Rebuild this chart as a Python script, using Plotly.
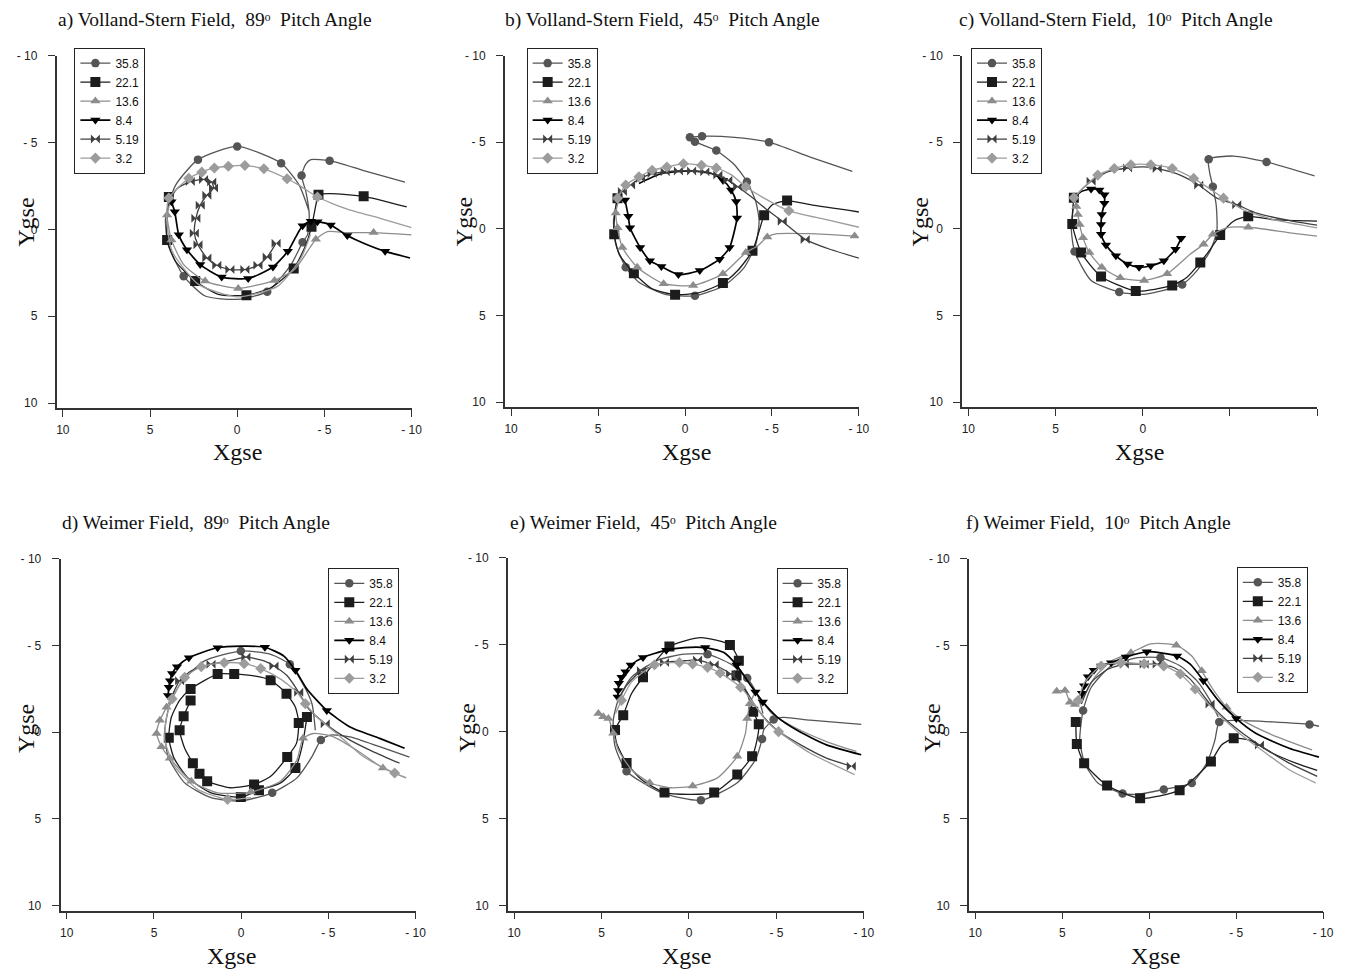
import plotly.graph_objects as go

ENERGIES = ["35.8", "22.1", "13.6", "8.4", "5.19", "3.2"]
TICK_VALS = [-10, -5, 0, 5, 10]
Y_TICK_TEXT = ["- 10", "- 5", "0", "5", "10"]
X_TICK_TEXT = ["- 10", "- 5", "0", "5", "10"]
C_TICK_VALS = [0, 5, 10]          # panel c: only these x ticks are labelled
C_X_TICK_TEXT = ["0", "5", "10"]
C_UNLABELLED = [-10, -5]
TITLES = [
    "a) Volland-Stern Field,\u00a0 89\u1d52\u00a0 Pitch Angle",
    "b) Volland-Stern Field,\u00a0 45\u1d52\u00a0 Pitch Angle",
    "c) Volland-Stern Field,\u00a0 10\u1d52\u00a0 Pitch Angle",
    "d) Weimer Field,\u00a0 89\u1d52\u00a0 Pitch Angle",
    "e) Weimer Field,\u00a0 45\u1d52\u00a0 Pitch Angle",
    "f) Weimer Field,\u00a0 10\u1d52\u00a0 Pitch Angle",
]

# ---------------- panel a ----------------
A_X = {
    "35.8": [-9.62, -7.25, -5.30, -4.22, -3.94, -3.69, -3.94, -4.13, -4.03, -3.75, -3.09, -1.72, 0.00, 1.84, 3.07, 3.96, 4.11, 3.54, 2.25, 0.00, -2.52, -3.56, -4.13],
    "22.1": [-9.72, -7.25, -5.36, -4.66, -4.51, -4.26, -3.94, -3.24, -1.95, -0.53, 1.08, 2.41, 3.54, 4.02, 4.02, 3.92],
    "13.6": [-10.0, -7.82, -6.31, -5.17, -4.51, -4.03, -3.28, -2.14, -0.06, 1.84, 3.07, 3.77, 4.02, 3.83],
    "8.4": [-9.91, -8.48, -7.25, -6.31, -5.36, -4.60, -4.22, -3.75, -3.37, -2.90, -2.05, -0.63, 0.89, 2.12, 2.88, 3.35, 3.58, 3.77],
    "5.19": [4.02, 3.45, 2.69, 1.93, 1.46, 1.36, 1.74, 2.12, 2.37, 2.46, 2.25, 1.74, 1.17, 0.42, -0.44, -1.19, -1.72, -2.23],
    "3.2": [-10.0, -8.20, -6.31, -4.60, -3.56, -2.86, -1.53, -0.44, 0.51, 1.31, 2.03, 2.78, 3.35, 3.92, 4.05, 3.73, 2.22, 0.00, -2.33, -3.66, -4.20],
}
A_Y = {
    "35.8": [-2.72, -3.38, -3.95, -4.01, -3.76, -3.10, -2.15, -0.82, 0.32, 0.74, 2.03, 3.59, 4.03, 3.84, 2.70, 0.89, -0.63, -2.53, -4.01, -4.77, -3.80, -2.53, -1.01],
    "22.1": [-1.29, -1.90, -2.05, -1.99, -1.39, -0.15, 0.89, 2.26, 3.36, 3.80, 3.74, 2.98, 1.84, 0.61, -0.63, -1.86],
    "13.6": [0.32, 0.19, 0.19, 0.13, 0.57, 1.27, 2.32, 2.94, 3.40, 2.98, 2.03, 0.61, -0.82, -1.58],
    "8.4": [1.65, 1.27, 0.80, 0.36, -0.25, -0.44, -0.47, -0.21, 0.42, 1.27, 2.17, 2.83, 2.75, 2.03, 1.18, 0.32, -1.01, -1.58],
    "5.19": [-1.39, -2.34, -2.75, -2.87, -2.72, -2.37, -1.96, -1.39, -0.63, 0.23, 0.89, 1.65, 2.07, 2.32, 2.32, 2.07, 1.60, 0.80],
    "3.2": [-0.09, -0.63, -1.16, -1.86, -2.53, -2.91, -3.48, -3.67, -3.63, -3.53, -3.29, -2.94, -2.43, -1.80, -0.63, 1.27, 3.17, 3.89, 3.27, 1.65, 0.30],
}
A_M = {
    "35.8": [2, 5, 9, 11, 14, 18, 19, 20],
    "22.1": [1, 3, 5, 7, 9, 11, 13, 15],
    "13.6": [1, 4, 7, 8, 9, 11, 12],
    "8.4": [1, 3, 4, 5, 6, 7, 9, 10, 11, 12, 13, 14, 15, 16, 17],
    "5.19": [2, 3, 4, 5, 6, 7, 8, 9, 10, 11, 12, 13, 14, 15, 16, 17],
    "3.2": [3, 5, 6, 7, 8, 9, 10, 11, 13],
}

# ---------------- panel b ----------------
B_X = {
    "35.8": [-9.62, -7.20, -4.83, -2.84, -0.98, -0.28, -0.57, -1.80, -2.84, -3.56, -4.07, -4.26, -4.07, -3.41, -2.27, -0.57, 1.14, 2.65, 3.41, 3.98, 4.11, 3.88],
    "22.1": [-10.0, -7.20, -5.87, -5.02, -4.55, -4.26, -3.88, -3.03, -2.18, -0.76, 0.57, 1.89, 2.94, 3.79, 4.07, 4.02, 3.88],
    "13.6": [-9.75, -7.20, -5.30, -4.73, -4.17, -3.50, -2.18, -0.47, 1.23, 2.75, 3.60, 3.88, 3.98, 3.83],
    "8.4": [3.45, 3.26, 3.16, 2.58, 2.02, 1.36, 0.38, -0.85, -1.99, -2.56, -2.99, -2.94, -2.65, -2.18, -1.52, -0.28, 1.33, 2.65],
    "5.19": [3.88, 3.60, 3.13, 2.56, 1.89, 1.14, 0.38, -0.38, -1.14, -1.89, -2.46, -3.03, -3.79, -4.64, -5.59, -6.91, -8.33, -10.0],
    "3.2": [-10.0, -8.14, -5.97, -4.55, -3.50, -2.65, -1.80, -0.95, 0.09, 1.04, 1.89, 2.65, 3.41, 3.88],
}
B_Y = {
    "35.8": [-3.32, -4.14, -5.00, -5.28, -5.34, -5.28, -5.03, -4.52, -3.70, -2.72, -1.58, -0.44, 0.89, 2.22, 3.27, 3.87, 3.78, 3.08, 2.22, 0.89, -0.44, -1.77],
    "22.1": [-0.97, -1.39, -1.63, -1.39, -0.78, 0.13, 1.27, 2.41, 3.13, 3.70, 3.80, 3.46, 2.56, 1.46, 0.32, -1.01, -1.77],
    "13.6": [0.42, 0.28, 0.28, 0.47, 0.99, 1.37, 2.60, 3.27, 3.17, 2.22, 1.08, -0.06, -0.91, -1.58],
    "8.4": [-1.67, -0.72, -0.06, 1.08, 1.84, 2.18, 2.64, 2.41, 1.75, 1.08, -0.63, -1.58, -2.24, -2.81, -3.19, -3.34, -3.19, -2.62],
    "5.19": [-1.77, -2.15, -2.53, -2.91, -3.19, -3.29, -3.34, -3.34, -3.29, -3.10, -2.81, -2.43, -1.86, -1.16, -0.44, 0.61, 1.18, 1.69],
    "3.2": [-0.09, -0.53, -1.04, -1.77, -2.43, -3.13, -3.51, -3.67, -3.76, -3.57, -3.38, -3.00, -2.53, -1.77],
}
B_M = {
    "35.8": [2, 4, 5, 6, 7, 9, 15, 18],
    "22.1": [2, 4, 6, 8, 10, 12, 14, 16],
    "13.6": [0, 3, 5, 6, 7, 8, 9, 10, 11, 12],
    "8.4": [0, 1, 2, 3, 4, 5, 6, 7, 8, 9, 10, 11, 12, 13],
    "5.19": [1, 2, 3, 4, 5, 6, 7, 8, 9, 10, 11, 14, 15],
    "3.2": [2, 4, 6, 7, 8, 9, 10, 11, 12, 13],
}

# ---------------- panel c ----------------
C_X = {
    "35.8": [-9.85, -7.10, -5.20, -3.78, -3.83, -4.02, -4.21, -4.25, -3.87, -3.11, -2.26, -0.08, 1.35, 2.96, 3.91, 4.10, 3.95],
    "22.1": [-10.0, -7.48, -6.05, -5.20, -4.44, -3.87, -3.30, -2.54, -1.69, 0.40, 2.39, 3.53, 4.04, 3.95],
    "13.6": [-10.0, -8.43, -6.05, -4.82, -4.02, -3.49, -2.73, -1.40, -0.08, 1.29, 2.35, 3.06, 3.43, 3.62, 3.72, 3.81, 3.91],
    "8.4": [3.95, 3.53, 2.96, 2.49, 2.20, 2.20, 2.35, 2.39, 2.39, 2.11, 1.54, 0.87, 0.21, -0.46, -1.21, -1.88, -2.20],
    "5.19": [3.95, 3.43, 2.96, 2.01, 0.87, -0.08, -0.83, -1.94, -3.21, -4.25, -5.39, -6.53, -8.43, -10.0],
    "3.2": [3.95, 3.34, 2.58, 1.63, 0.68, -0.46, -1.69, -2.92, -4.63, -5.77, -7.48, -10.0],
}
C_Y = {
    "35.8": [-3.06, -3.86, -4.20, -4.01, -3.29, -2.43, -1.39, 0.13, 1.27, 2.41, 3.21, 3.78, 3.65, 2.98, 1.31, -0.06, -1.39],
    "22.1": [-0.44, -0.53, -0.72, -0.44, 0.36, 1.18, 1.94, 2.79, 3.27, 3.59, 2.75, 1.37, -0.28, -1.80],
    "13.6": [0.42, 0.23, -0.09, -0.06, 0.32, 0.89, 1.46, 2.60, 2.98, 2.83, 2.22, 1.37, 0.51, -0.25, -0.82, -1.29, -1.77],
    "8.4": [-1.77, -2.15, -2.30, -2.24, -1.96, -1.48, -0.82, -0.25, 0.32, 0.93, 1.56, 2.03, 2.22, 2.13, 1.84, 1.18, 0.55],
    "5.19": [-1.77, -2.34, -2.75, -3.29, -3.51, -3.57, -3.48, -3.19, -2.53, -1.77, -1.39, -0.91, -0.47, -0.21],
    "3.2": [-1.80, -2.43, -3.10, -3.48, -3.70, -3.70, -3.48, -2.91, -1.77, -1.10, -0.53, -0.06],
}
C_M = {
    "35.8": [1, 3, 5, 10, 12, 14],
    "22.1": [2, 4, 6, 8, 9, 10, 11, 12, 13],
    "13.6": [2, 4, 5, 7, 8, 9, 10, 11, 12, 13, 14, 15],
    "8.4": [2, 3, 4, 5, 6, 7, 8, 9, 10, 11, 12, 13, 14, 15, 16],
    "5.19": [2, 4, 6, 8, 10],
    "3.2": [0, 2, 3, 4, 5, 6, 7, 8],
}

# ---------------- panel d ----------------
D_X = {
    "35.8": [-9.65, -7.94, -6.24, -5.10, -4.57, -4.06, -3.20, -1.78, 0.02, 1.73, 3.24, 4.19, 4.38, 4.09, 3.43, 2.10, 0.02, -1.69, -2.79, -3.49, -4.06, -4.25],
    "22.1": [-3.77, -3.49, -3.11, -2.26, -1.02, 0.02, 1.73, 3.05, 3.85, 4.15, 4.00, 3.53, 2.90, 1.35, 0.40, -0.74, -1.69, -2.60, -3.11, -3.30, -3.17, -2.64, -1.69, -0.74, 0.59, 1.95, 2.39, 2.77, 3.24, 3.53, 3.30, 2.90],
    "13.6": [3.81, 4.28, 4.66, 4.85, 4.57, 4.09, 2.86, 1.35, -0.55, -2.26, -3.20, -3.55, -4.15, -5.29, -6.61, -8.13, -9.46],
    "8.4": [4.19, 4.15, 4.08, 3.96, 3.68, 3.00, 1.35, 0.02, -1.36, -2.45, -3.11, -3.77, -4.91, -6.24, -7.94, -9.37],
    "5.19": [3.91, 3.53, 2.86, 1.73, 0.59, -0.27, -1.31, -1.88, -2.64, -3.30, -3.87, -4.82, -6.24, -7.56, -9.08],
    "3.2": [-0.55, 0.78, 2.48, 3.81, 4.38, 4.28, 3.96, 3.24, 2.29, 0.97, -0.17, -1.12, -2.26, -3.20, -3.68, -4.34, -5.48, -7.00, -8.80, -9.46],
}
D_Y = {
    "35.8": [1.44, 0.84, 0.27, 0.17, 0.46, 1.41, 2.64, 3.50, 3.97, 3.78, 2.93, 1.41, -0.11, -1.64, -2.87, -4.11, -4.68, -4.49, -3.92, -2.87, -1.64, -0.11],
    "22.1": [-0.87, 0.84, 2.07, 2.93, 3.35, 3.75, 3.50, 2.64, 1.50, 0.32, -0.87, -1.83, -2.49, -3.35, -3.35, -3.25, -3.00, -2.21, -1.44, -0.53, 0.65, 1.44, 2.55, 3.02, 3.21, 2.83, 2.40, 1.79, 0.93, -0.11, -0.91, -1.83],
    "13.6": [-2.40, -1.44, -0.68, 0.08, 0.84, 1.50, 2.83, 3.50, 3.46, 2.83, 1.60, 0.36, 0.08, 0.27, 1.03, 2.07, 2.64],
    "8.4": [-2.11, -2.59, -2.97, -3.38, -3.78, -4.30, -4.87, -4.96, -4.90, -4.39, -3.57, -2.49, -1.25, -0.30, 0.36, 0.93],
    "5.19": [-2.21, -2.97, -3.54, -3.92, -4.14, -4.33, -4.11, -3.82, -3.25, -2.30, -1.35, -0.49, 0.46, 1.12, 1.79],
    "3.2": [3.78, 3.88, 3.31, 1.98, 0.46, -0.87, -1.92, -3.16, -3.78, -4.01, -3.95, -3.67, -3.06, -2.30, -1.64, -0.87, 0.08, 1.41, 2.36, 2.64],
}
D_M = {
    "35.8": [4, 7, 16, 18],
    "22.1": [0, 2, 4, 5, 9, 12, 13, 14, 16, 17, 19, 21, 23, 25, 26, 27, 29, 30, 31],
    "13.6": [1, 2, 3, 4, 5, 6, 8, 11, 15],
    "8.4": [0, 1, 2, 3, 4, 5, 6, 8, 10, 12],
    "5.19": [1, 3, 5, 7, 9, 11],
    "3.2": [1, 6, 7, 8, 9, 10, 11, 14, 18],
}

# ---------------- panel e ----------------
E_X = {
    "35.8": [-9.85, -6.92, -5.41, -4.84, -4.27, -4.18, -3.80, -2.76, -0.68, 1.59, 3.57, 4.23, 4.33, 4.05, 3.29, 1.78, 0.26, -1.06, -2.38, -3.33, -3.89, -4.23],
    "22.1": [4.23, 3.76, 3.29, 2.63, 1.12, -0.68, -2.34, -2.85, -2.72, -3.33, -3.67, -3.99, -3.89, -3.61, -2.76, -1.44, -0.11, 1.40, 2.72, 3.57, 4.14, 4.23],
    "13.6": [5.18, 4.90, 4.61, 4.33, 4.05, 3.29, 2.25, 1.02, -0.21, -1.63, -2.76, -3.23, -3.33, -3.48, -3.80, -4.74, -5.97, -7.86, -9.57],
    "8.4": [4.08, 4.05, 4.01, 3.86, 3.63, 3.33, 2.63, 1.30, 0.26, -0.93, -2.00, -2.72, -3.33, -3.80, -4.22, -5.03, -6.16, -7.86, -9.85],
    "5.19": [4.05, 3.57, 2.72, 1.40, 0.26, -0.49, -1.44, -2.38, -3.14, -3.71, -4.27, -5.03, -6.54, -7.86, -9.28],
    "3.2": [4.20, 3.86, 3.29, 1.97, 0.55, -0.21, -1.06, -1.78, -2.95, -3.71, -4.46, -5.12, -6.92, -9.47],
}
E_Y = {
    "35.8": [-0.42, -0.66, -0.82, -0.70, -0.09, 0.42, 1.61, 2.94, 3.95, 3.51, 2.28, 0.85, -0.66, -1.80, -3.13, -4.12, -4.46, -4.46, -3.89, -3.09, -2.18, -1.04],
    "22.1": [-0.09, -0.95, -2.18, -3.13, -4.90, -5.41, -4.99, -4.08, -3.23, -2.18, -1.14, -0.42, 0.47, 1.42, 2.47, 3.51, 3.61, 3.51, 2.75, 1.80, 0.66, -0.09],
    "13.6": [-1.04, -0.85, -0.76, 0.09, 1.04, 2.18, 2.94, 3.23, 3.13, 2.66, 1.42, 0.09, -0.76, -1.61, -2.18, -1.04, -0.28, 0.57, 1.14],
    "8.4": [-1.99, -2.37, -2.79, -3.13, -3.45, -3.83, -4.27, -4.69, -4.84, -4.84, -4.55, -3.83, -2.94, -2.28, -1.71, -0.85, -0.09, 0.76, 1.33],
    "5.19": [-1.80, -2.66, -3.51, -3.98, -4.08, -4.12, -3.85, -3.32, -2.56, -1.61, -0.85, -0.09, 0.85, 1.52, 1.99],
    "3.2": [-1.04, -1.80, -2.85, -3.85, -3.98, -3.89, -3.70, -3.38, -2.56, -1.61, -0.57, 0.00, 1.23, 2.47],
}
E_M = {
    "35.8": [3, 5, 8, 10, 17, 19],
    "22.1": [0, 1, 3, 4, 6, 7, 8, 10, 11, 13, 14, 15, 17, 19],
    "13.6": [0, 1, 2, 3, 6, 8, 10, 12, 13],
    "8.4": [0, 1, 2, 3, 4, 5, 6, 7, 9, 11, 13, 14],
    "5.19": [2, 3, 5, 6, 7, 14],
    "3.2": [1, 3, 4, 5, 6, 7, 8, 11],
}

# ---------------- panel f ----------------
F_X = {
    "35.8": [-9.76, -9.22, -7.10, -5.01, -4.03, -3.78, -3.31, -2.45, -0.84, 0.67, 1.53, 2.95, 3.71, 3.99, 3.80, 3.33, 2.19, 0.67, -0.65, -1.79, -2.74, -3.50, -3.97],
    "22.1": [4.22, 4.16, 3.74, 2.42, 0.52, -1.75, -3.55, -4.16, -4.86, -5.77, -7.10, -8.43, -9.66],
    "13.6": [5.32, 4.84, 4.56, 4.27, 3.80, 3.14, 2.19, 1.05, -0.09, -1.56, -2.45, -3.02, -3.59, -4.45, -5.39, -7.10, -9.37],
    "8.4": [3.90, 3.86, 3.74, 3.52, 3.18, 2.76, 2.19, 1.34, 0.14, -1.60, -2.36, -3.12, -3.97, -5.01, -6.15, -8.05, -9.76],
    "5.19": [3.90, 3.33, 2.38, 1.43, 0.29, -0.46, -1.41, -2.36, -3.50, -4.45, -5.39, -6.34, -8.05, -9.66],
    "3.2": [4.09, 3.71, 2.76, 1.62, 0.29, -0.84, -1.79, -2.65, -3.40, -4.16, -5.20, -6.72, -8.05, -9.57],
}
F_Y = {
    "35.8": [-0.34, -0.44, -0.59, -0.68, -0.59, 0.46, 1.79, 2.93, 3.31, 3.59, 3.54, 2.93, 1.79, 0.46, -1.25, -2.59, -3.82, -4.30, -4.30, -3.82, -2.97, -1.83, -0.87],
    "22.1": [-0.59, 0.68, 1.79, 3.08, 3.82, 3.35, 1.69, 0.74, 0.36, 0.46, 1.22, 1.79, 2.21],
    "13.6": [-2.36, -2.40, -1.73, -1.60, -2.02, -3.16, -4.11, -4.58, -5.10, -5.02, -4.39, -3.54, -2.59, -1.44, -0.68, 0.17, 1.03],
    "8.4": [-1.83, -2.24, -2.68, -3.19, -3.57, -3.82, -4.01, -4.33, -4.64, -4.39, -3.92, -2.97, -1.83, -0.78, 0.08, 0.93, 1.44],
    "5.19": [-1.63, -2.87, -3.63, -3.92, -3.92, -3.92, -3.73, -3.06, -1.63, -0.68, 0.08, 0.74, 1.79, 2.55],
    "3.2": [-1.83, -2.87, -3.82, -4.01, -3.95, -3.82, -3.35, -2.49, -1.63, -0.87, 0.08, 1.22, 2.17, 2.93],
}
F_M = {
    "35.8": [1, 4, 7, 8, 10, 12, 14, 18],
    "22.1": [0, 1, 2, 3, 4, 5, 6, 8],
    "13.6": [0, 1, 2, 3, 7, 9, 11, 13],
    "8.4": [1, 2, 3, 4, 5, 6, 7, 8, 9, 11, 13],
    "5.19": [3, 4, 5, 8, 11],
    "3.2": [0, 2, 3, 4, 5, 6, 7],
}

PANELS = [(A_X, A_Y, A_M), (B_X, B_Y, B_M), (C_X, C_Y, C_M),
          (D_X, D_Y, D_M), (E_X, E_Y, E_M), (F_X, F_Y, F_M)]

# ---------------- styles & layout geometry ----------------
STYLE = {
    "35.8": dict(color="#555555", symbol="circle", size=8.5, width=1.3),
    "22.1": dict(color="#1c1c1c", symbol="square", size=10, width=1.3),
    "13.6": dict(color="#8c8c8c", symbol="triangle-up", size=9, width=1.3),
    "8.4": dict(color="#000000", symbol="triangle-down", size=9, width=1.7),
    "5.19": dict(color="#404040", symbol="bowtie", size=9, width=1.3),
    "3.2": dict(color="#9c9c9c", symbol="diamond", size=8.5, width=1.3),
}

W, H = 1345, 977
# plot areas in pixels: (left, right, top, bottom)
BOXES = [(57, 415, 49, 405), (509, 866, 49, 404), (970, 1328, 49, 404),
         (61, 419, 557, 912), (512, 871, 556, 912), (977, 1334, 557, 912)]
LEGEND_POS = [(75, 41), (531, 41), (979, 41), (331, 566), (783, 566), (1247, 565)]
TITLE_POS = [(56, 13), (507, 13), (965, 13), (60, 521), (512, 521), (972, 521)]
XLAB_POS = [(239, 449), (692, 449), (1149, 449), (233, 958), (692, 958), (1165, 958)]
YLAB_POS = [(26, 217), (468, 217), (928, 217), (27, 728), (471, 728), (940, 728)]

SERIF = "Liberation Serif, Times New Roman, DejaVu Serif, serif"
SANS = "Liberation Sans, Arial, sans-serif"

fig = go.Figure()
layout = dict(width=W, height=H, margin=dict(l=0, r=0, t=0, b=0),
              paper_bgcolor="white", plot_bgcolor="white", showlegend=True,
              annotations=[])

for i, (PX, PY, PM) in enumerate(PANELS):
    n = i + 1
    xa = "x" if n == 1 else f"x{n}"
    ya = "y" if n == 1 else f"y{n}"
    lg = "legend" if n == 1 else f"legend{n}"
    for e in ENERGIES:
        st = STYLE[e]
        xs, ys = PX[e], PY[e]
        assert len(xs) == len(ys), (n, e)
        fig.add_trace(go.Scatter(
            x=xs, y=ys, mode="lines", xaxis=xa, yaxis=ya, showlegend=False,
            line=dict(color=st["color"], width=st["width"], shape="spline", smoothing=0.6),
            hoverinfo="skip"))
        fig.add_trace(go.Scatter(
            x=[xs[k] for k in PM[e]], y=[ys[k] for k in PM[e]], mode="markers",
            xaxis=xa, yaxis=ya, showlegend=False,
            marker=dict(symbol=st["symbol"], size=st["size"], color=st["color"],
                        line=dict(width=0))))
        fig.add_trace(go.Scatter(
            x=[None], y=[None], mode="lines+markers", name=e, xaxis=xa, yaxis=ya,
            legend=lg, showlegend=True,
            line=dict(color=st["color"], width=st["width"]),
            marker=dict(symbol=st["symbol"], size=st["size"], color=st["color"],
                        line=dict(width=0))))

    l, r, t, b = BOXES[i]
    axis_common = dict(showline=True, linecolor="#333333", linewidth=1.6,
                       ticks="outside", ticklen=7, tickwidth=1.4, tickcolor="#333333",
                       showgrid=False, zeroline=False,
                       tickfont=dict(family=SANS, size=12, color="#222222"))
    xdict = dict(axis_common, domain=[l / W, r / W], range=[10.36, -10], anchor=ya,
                 ticklabelstandoff=3)
    if n == 3:
        xdict.update(tickvals=C_TICK_VALS, ticktext=C_X_TICK_TEXT,
                     minor=dict(tickvals=C_UNLABELLED, ticks="outside", ticklen=7,
                                tickwidth=1.4, tickcolor="#333333", showgrid=False))
    else:
        xdict.update(tickvals=TICK_VALS, ticktext=X_TICK_TEXT)
    layout[f"xaxis{'' if n == 1 else n}"] = xdict
    layout[f"yaxis{'' if n == 1 else n}"] = dict(
        axis_common, domain=[1 - b / H, 1 - t / H], range=[10.3, -10], anchor=xa,
        tickvals=TICK_VALS, ticktext=Y_TICK_TEXT, ticklabelstandoff=8)

    lx, ly = LEGEND_POS[i]
    layout[lg] = dict(x=lx / W, y=1 - ly / H, xanchor="left", yanchor="top",
                      bgcolor="white", bordercolor="#222222", borderwidth=1,
                      font=dict(family=SANS, size=12, color="#111111"),
                      itemwidth=30, tracegroupgap=0, traceorder="normal")

    tx, ty = TITLE_POS[i]
    layout["annotations"].append(dict(
        text=TITLES[i], x=tx / W, y=1 - ty / H, xref="paper", yref="paper",
        xanchor="left", yanchor="middle", showarrow=False,
        font=dict(family=SERIF, size=19.5, color="#111111")))
    xx, xy = XLAB_POS[i]
    layout["annotations"].append(dict(
        text="Xgse", x=xx / W, y=1 - xy / H, xref="paper", yref="paper",
        xanchor="center", yanchor="middle", showarrow=False,
        font=dict(family=SERIF, size=24, color="#111111")))
    yx, yy = YLAB_POS[i]
    layout["annotations"].append(dict(
        text="Ygse", x=yx / W, y=1 - yy / H, xref="paper", yref="paper",
        xanchor="center", yanchor="middle", showarrow=False, textangle=-90,
        font=dict(family=SERIF, size=24, color="#111111")))

fig.update_layout(**layout)
fig.write_html("out.html")
